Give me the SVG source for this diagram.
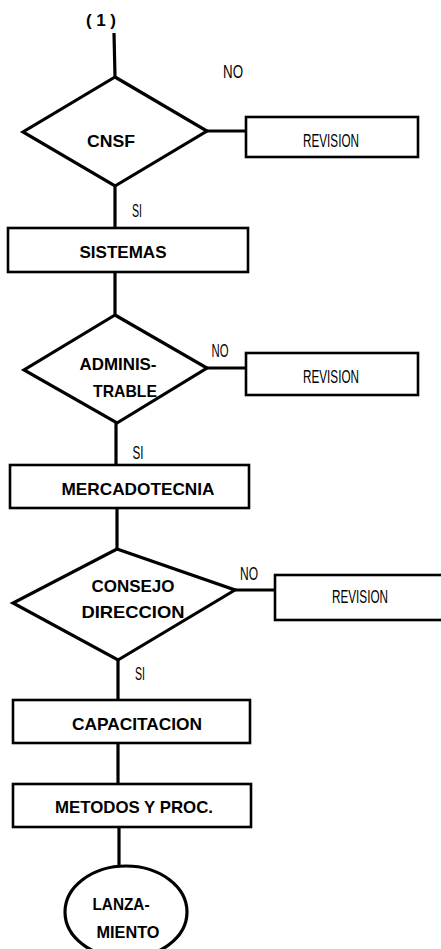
<svg xmlns="http://www.w3.org/2000/svg" width="441" height="949" viewBox="0 0 441 949">
<style>
.s{fill:#fff;stroke:#000;stroke-width:3.2;stroke-linejoin:miter}
.b{fill:#fff;stroke:#000;stroke-width:2.6}
.c{fill:none;stroke:#000;stroke-width:3.2}
.t{font-family:"Liberation Sans",Arial,sans-serif;font-weight:bold;font-size:17px;fill:#000;text-anchor:middle}
.n{font-family:"Liberation Sans Narrow","Liberation Sans",Arial,sans-serif;font-size:18px;fill:#000;text-anchor:middle}
</style>
<rect width="441" height="949" fill="#fff"/>
<g id="connectors">
<line class="c" x1="114" y1="33" x2="115" y2="77"/>
<line class="c" x1="115" y1="186" x2="115" y2="228"/>
<line class="c" x1="115" y1="272" x2="115" y2="315"/>
<line class="c" x1="116" y1="423" x2="116" y2="465"/>
<line class="c" x1="117" y1="508" x2="117" y2="549"/>
<line class="c" x1="118" y1="660" x2="118" y2="700"/>
<line class="c" x1="118" y1="743" x2="118" y2="784"/>
<line class="c" x1="119" y1="827" x2="119" y2="866"/>
<line class="c" x1="207" y1="131" x2="246" y2="131"/>
<line class="c" x1="207" y1="368" x2="246" y2="368"/>
<line class="c" x1="235" y1="590" x2="275" y2="590"/>
<text class="n" x="233" y="78" textLength="20" lengthAdjust="spacingAndGlyphs">NO</text>
<text class="n" x="137" y="217" textLength="10" lengthAdjust="spacingAndGlyphs">SI</text>
<text class="n" x="220" y="357" textLength="17" lengthAdjust="spacingAndGlyphs">NO</text>
<text class="n" x="138" y="459" textLength="11" lengthAdjust="spacingAndGlyphs">SI</text>
<text class="n" x="249" y="580" textLength="18" lengthAdjust="spacingAndGlyphs">NO</text>
<text class="n" x="140" y="680" textLength="10" lengthAdjust="spacingAndGlyphs">SI</text>
</g>
<g id="start"><text class="t" x="101" y="26" textLength="30" lengthAdjust="spacing">(1)</text></g>
<g id="cnsf">
<polygon class="s" points="115,77 207,131 115,186 23,132"/>
<text class="t" x="111" y="147" textLength="48" lengthAdjust="spacingAndGlyphs">CNSF</text>
</g>
<g id="revision1">
<rect class="b" x="246" y="117" width="172" height="40"/>
<text class="n" x="331" y="147" textLength="56" lengthAdjust="spacingAndGlyphs">REVISION</text>
</g>
<g id="sistemas">
<rect class="b" x="8" y="228" width="240" height="44"/>
<text class="t" x="123" y="258" textLength="87" lengthAdjust="spacingAndGlyphs">SISTEMAS</text>
</g>
<g id="administrable">
<polygon class="s" points="115,315 207,368 117,423 24,370"/>
<text class="t" x="118" y="370" textLength="77" lengthAdjust="spacingAndGlyphs">ADMINIS-</text>
<text class="t" x="125" y="397" textLength="64" lengthAdjust="spacingAndGlyphs">TRABLE</text>
</g>
<g id="revision2">
<rect class="b" x="246" y="353" width="172" height="42"/>
<text class="n" x="331" y="383" textLength="56" lengthAdjust="spacingAndGlyphs">REVISION</text>
</g>
<g id="mercadotecnia">
<rect class="b" x="10" y="465" width="239" height="43"/>
<text class="t" x="138" y="495" textLength="153" lengthAdjust="spacingAndGlyphs">MERCADOTECNIA</text>
</g>
<g id="consejo">
<polygon class="s" points="117,549 235,590 118,660 13,603"/>
<text class="t" x="133" y="592" textLength="83" lengthAdjust="spacingAndGlyphs">CONSEJO</text>
<text class="t" x="133" y="618" textLength="103" lengthAdjust="spacingAndGlyphs">DIRECCION</text>
</g>
<g id="revision3">
<rect class="b" x="275" y="575" width="172" height="45"/>
<text class="n" x="360" y="603" textLength="56" lengthAdjust="spacingAndGlyphs">REVISION</text>
</g>
<g id="capacitacion">
<rect class="b" x="13" y="700" width="237" height="43"/>
<text class="t" x="137" y="730" textLength="130" lengthAdjust="spacingAndGlyphs">CAPACITACION</text>
</g>
<g id="metodos">
<rect class="b" x="13" y="784" width="238" height="43"/>
<text class="t" x="134" y="813" textLength="158" lengthAdjust="spacingAndGlyphs">METODOS Y PROC.</text>
</g>
<g id="lanzamiento">
<ellipse class="s" cx="126" cy="912" rx="61" ry="46"/>
<text class="t" x="121" y="910" textLength="57" lengthAdjust="spacingAndGlyphs">LANZA-</text>
<text class="t" x="128" y="938" textLength="63" lengthAdjust="spacingAndGlyphs">MIENTO</text>
</g>
</svg>
